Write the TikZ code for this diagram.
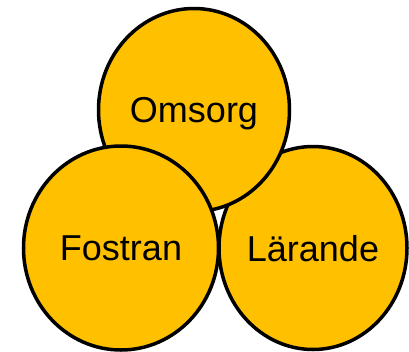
\documentclass[tikz,border=0pt]{standalone}
\usepackage{fontspec}
\setmainfont{Liberation Sans}
\usetikzlibrary{shapes.geometric}
\definecolor{ringgold}{RGB}{255,192,0}
\tikzstyle{ring}=[ellipse,draw=black,fill=ringgold,line width=3.5pt,inner sep=0pt,text depth=0pt,font=\fontsize{36}{40}\selectfont]
\begin{document}
\begin{tikzpicture}[x=1pt,y=-1pt]
	\useasboundingbox (0,0) rectangle (409,351);
	\node[ring,minimum width=188pt,minimum height=203pt] (larande) at (313,248) {Lärande};
	\node[ring,minimum width=191pt,minimum height=203pt] (omsorg) at (194,110) {Omsorg};
	\node[ring,minimum width=195pt,minimum height=204pt] (fostran) at (121,248) {Fostran};
\end{tikzpicture}
\end{document}
